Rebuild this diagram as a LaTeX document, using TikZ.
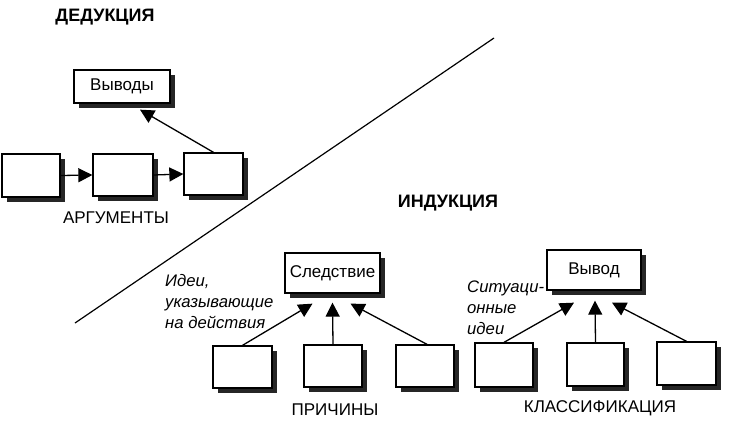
\documentclass[tikz,border=0pt]{standalone}
\usepackage{fontspec}
\setmainfont{Liberation Sans}
\usetikzlibrary{shadows,arrows.meta,calc}
\begin{document}
\begin{tikzpicture}[x=1pt,y=-1pt,
  box/.style={draw=black,line width=1.3pt,fill=white,inner sep=0pt,
    drop shadow={shadow xshift=4.5pt,shadow yshift=-4.5pt,fill=black!85,opacity=1},
    font=\fontsize{17}{20}\selectfont},
  arr/.style={line width=1.3pt,-{Triangle[length=14pt,width=14pt]}},
  lbl/.style={font=\fontsize{17}{20}\selectfont},
  ttl/.style={font=\fontsize{18}{20}\selectfont\bfseries},
  itl/.style={font=\fontsize{16.7}{21}\selectfont\itshape,align=left,anchor=west,inner sep=0pt}]
\useasboundingbox (0,0) rectangle (751,434);
% deduction
\node[ttl] (ded) at (105,17) {ДЕДУКЦИЯ};
\node[box,minimum width=96pt,minimum height=33pt] (vyv) at (122,86.5) {Выводы};
\node[box,minimum width=58pt,minimum height=43pt] (a1) at (31,175.5) {};
\node[box,minimum width=60pt,minimum height=42pt] (a2) at (123,175) {};
\node[box,minimum width=59pt,minimum height=42pt] (a3) at (213.5,174) {};
\node[lbl] (arg) at (116,218) {АРГУМЕНТЫ};
\draw[arr] (a1.east) -- (a2.west);
\draw[arr] (a2.east) -- (a3.west);
\coordinate (vt) at ($(vyv.south)+(18,6)$);
\draw[arr] (a3.north) -- (vt);
% divider
\coordinate (d1) at (75,323);
\coordinate (d2) at (494,38);
\draw[line width=1.2pt] (d1) -- (d2);
% induction
\node[ttl] (ind) at (448,203) {ИНДУКЦИЯ};
\node[box,minimum width=95pt,minimum height=40pt] (sled) at (332.5,273) {Следствие};
\node[box,minimum width=59pt,minimum height=42pt] (p1) at (242.5,367) {};
\node[box,minimum width=58pt,minimum height=42pt] (p2) at (333,366) {};
\node[box,minimum width=58pt,minimum height=42pt] (p3) at (425,366) {};
\coordinate (s1) at ($(sled.south)+(-20,10)$);
\coordinate (s2) at ($(sled.south)+(0,9)$);
\coordinate (s3) at ($(sled.south)+(18,10)$);
\draw[arr] (p1.north) -- (s1);
\draw[arr] (p2.north) -- (s2);
\draw[arr] ($(p3.north)+(2,0)$) -- (s3);
\node[lbl] (pr) at (335,410) {ПРИЧИНЫ};
\node[itl] (idei) at (165,302) {Идеи,\\указывающие\\на действия};
\node[box,minimum width=94pt,minimum height=40pt] (vd) at (594,270) {Вывод};
\node[box,minimum width=58pt,minimum height=44pt] (k1) at (504,365) {};
\node[box,minimum width=57pt,minimum height=43pt] (k2) at (595.5,364.5) {};
\node[box,minimum width=59pt,minimum height=43pt] (k3) at (686.5,363.5) {};
\coordinate (v1) at ($(vd.south)+(-20,12)$);
\coordinate (v2) at ($(vd.south)+(1,10)$);
\coordinate (v3) at ($(vd.south)+(18,12)$);
\draw[arr] (k1.north) -- (v1);
\draw[arr] (k2.north) -- (v2);
\draw[arr] (k3.north) -- (v3);
\node[lbl] (kl) at (600,408) {КЛАССИФИКАЦИЯ};
\node[itl] (sit) at (467,308) {Ситуаци-\\онные\\идеи};
\end{tikzpicture}
\end{document}
